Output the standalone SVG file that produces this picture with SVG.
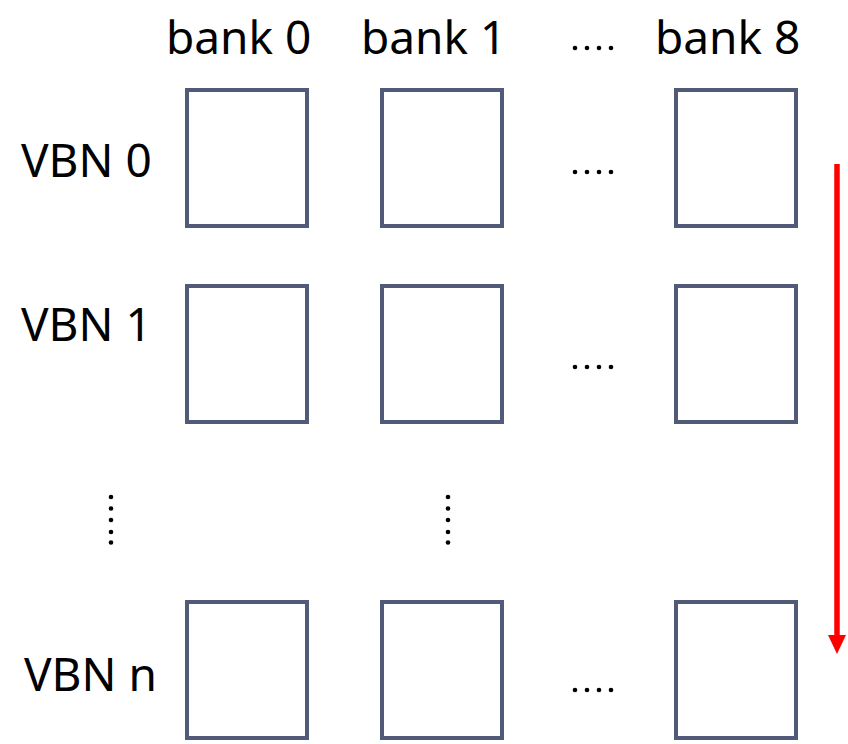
<svg xmlns="http://www.w3.org/2000/svg" width="848" height="744" viewBox="0 0 848 744">
  <style>
    .cell { fill: #ffffff; stroke: #525a7a; stroke-width: 4; }
    .lbl { font-family: "Noto Sans", "Open Sans", sans-serif; font-size: 46px; fill: #000000; }
    .dot { fill: #000000; }
  </style>
  <defs>
    <g id="hdots">
      <circle class="dot" cx="0" cy="0" r="2.3"/>
      <circle class="dot" cx="12" cy="0" r="2.3"/>
      <circle class="dot" cx="24" cy="0" r="2.3"/>
      <circle class="dot" cx="36" cy="0" r="2.3"/>
    </g>
    <g id="vdots">
      <circle class="dot" cx="0" cy="0" r="2.3"/>
      <circle class="dot" cx="0" cy="11.5" r="2.3"/>
      <circle class="dot" cx="0" cy="23" r="2.3"/>
      <circle class="dot" cx="0" cy="35" r="2.3"/>
      <circle class="dot" cx="0" cy="45.5" r="2.3"/>
    </g>
  </defs>

  <rect width="848" height="744" fill="#ffffff"/>

  <!-- column headers -->
  <g id="headers">
    <text class="lbl" x="166" y="54">bank 0</text>
    <text class="lbl" x="361" y="54">bank 1</text>
    <use href="#hdots" x="575" y="48"/>
    <text class="lbl" x="655" y="54">bank 8</text>
  </g>

  <!-- row labels -->
  <g id="rows">
    <text class="lbl" x="21" y="177">VBN 0</text>
    <text class="lbl" x="21" y="341">VBN 1</text>
    <text class="lbl" x="24" y="691">VBN n</text>
  </g>

  <!-- row 0 -->
  <g id="vbn0">
    <rect class="cell" x="187" y="90" width="120" height="136"/>
    <rect class="cell" x="382" y="90" width="120" height="136"/>
    <use href="#hdots" x="575" y="172"/>
    <rect class="cell" x="676" y="90" width="120" height="136"/>
  </g>

  <!-- row 1 -->
  <g id="vbn1">
    <rect class="cell" x="187" y="286" width="120" height="136"/>
    <rect class="cell" x="382" y="286" width="120" height="136"/>
    <use href="#hdots" x="575" y="367"/>
    <rect class="cell" x="676" y="286" width="120" height="136"/>
  </g>

  <!-- elided rows -->
  <g id="gap">
    <use href="#vdots" x="111" y="497"/>
    <use href="#vdots" x="448" y="497"/>
  </g>

  <!-- row n -->
  <g id="vbnn">
    <rect class="cell" x="187" y="602" width="120" height="136"/>
    <rect class="cell" x="382" y="602" width="120" height="136"/>
    <use href="#hdots" x="575" y="690"/>
    <rect class="cell" x="676" y="602" width="120" height="136"/>
  </g>

  <!-- scan direction -->
  <g id="connectors">
    <line x1="837" y1="164" x2="837" y2="636" stroke="#ff0000" stroke-width="5.5"/>
    <polygon points="828,635 846,635 837,654" fill="#ff0000"/>
  </g>
</svg>
